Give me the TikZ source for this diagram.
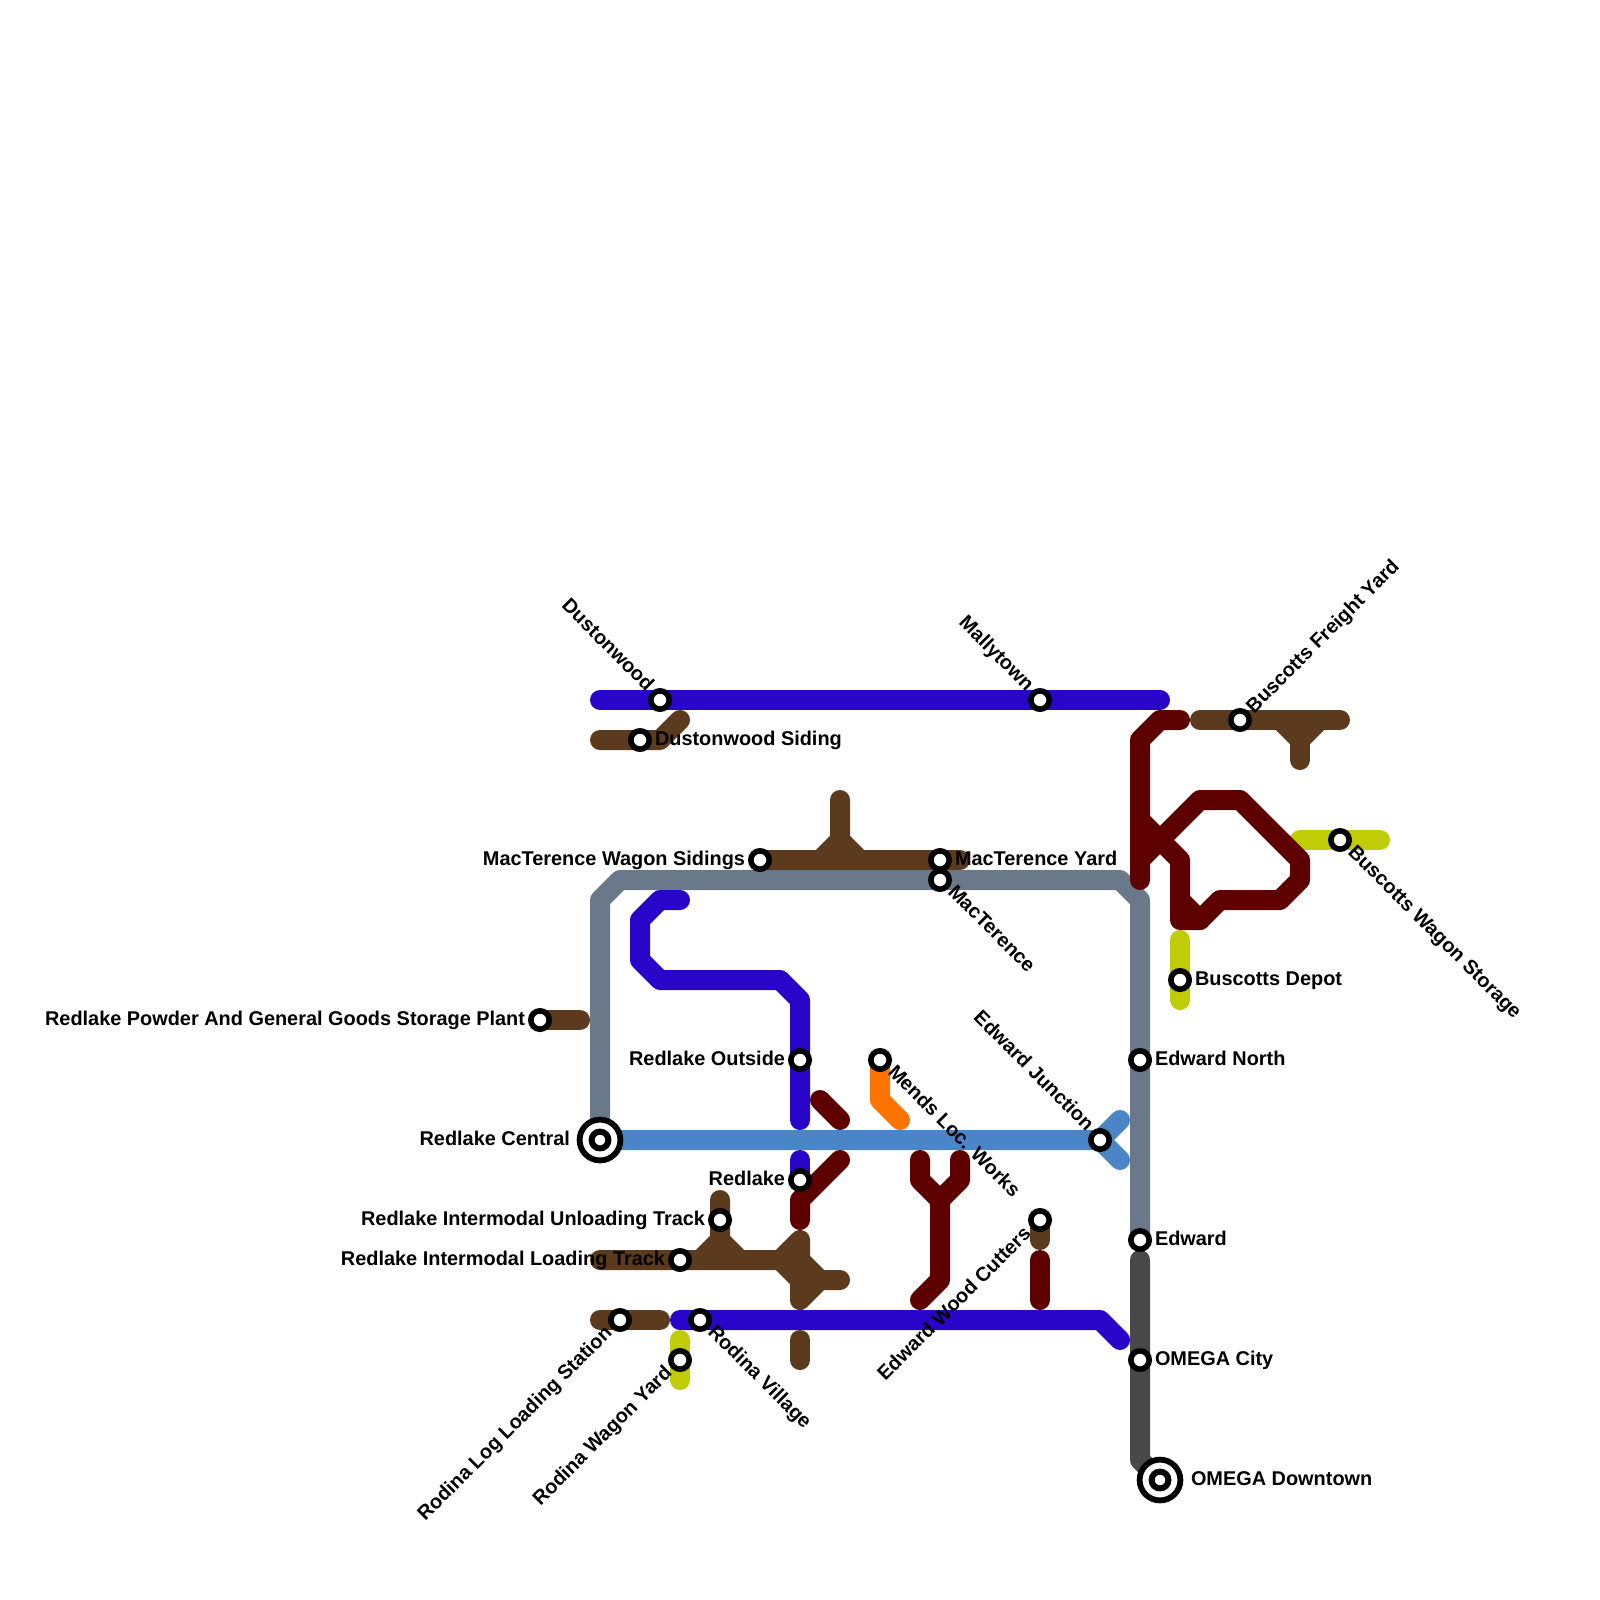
\documentclass[tikz,border=0pt]{standalone}
\usepackage{fontspec}
\setmainfont{Liberation Sans}
\usetikzlibrary{backgrounds}
\definecolor{cPurple}{HTML}{2805C8}
\definecolor{cBrown}{HTML}{5C3A1E}
\definecolor{cRed}{HTML}{5E0000}
\definecolor{cSteel}{HTML}{69798A}
\definecolor{cBlue}{HTML}{4A86C6}
\definecolor{cYellow}{HTML}{BFCC06}
\definecolor{cOrange}{HTML}{FF7300}
\definecolor{cDark}{HTML}{484848}
\tikzset{
  track/.style={line width=10pt,line cap=round,line join=round},
  purple line/.style={track,draw=cPurple},
  brown line/.style={track,draw=cBrown},
  red line/.style={track,draw=cRed},
  steel line/.style={track,draw=cSteel},
  blue line/.style={track,draw=cBlue},
  yellow line/.style={track,draw=cYellow},
  orange line/.style={track,draw=cOrange},
  dark line/.style={track,draw=cDark},
  stn/.style={circle,draw=black,fill=white,line width=2.8pt,minimum size=9.2pt,inner sep=0pt,outer sep=0pt},
  hub/.style={circle,draw=black,fill=white,line width=2.9pt,minimum size=20.4pt,inner sep=0pt,outer sep=0pt},
  hubcore/.style={circle,draw=black,fill=white,line width=3pt,minimum size=8.4pt,inner sep=0pt,outer sep=0pt},
  lab/.style={font=\bfseries\fontsize{9.95pt}{12pt}\selectfont,text=black,inner sep=0pt,outer sep=0pt},
  labR/.style={lab,anchor=base west},
  labL/.style={lab,anchor=base east},
  labDR/.style={lab,anchor=base west,rotate=-45},
  labUL/.style={lab,anchor=base east,rotate=-45},
  labUR/.style={lab,anchor=base west,rotate=45},
  labDL/.style={lab,anchor=base east,rotate=45},
}
\begin{document}
\begin{tikzpicture}[x=0.5pt,y=-0.5pt]
\useasboundingbox (0,0) rectangle (1600,1600);
% stations
\node[hub] (central) at (600,1140) {};
\node[hubcore] (centralI) at (600,1140) {};
\node[hub] (downtown) at (1160,1480) {};
\node[hubcore] (downtownI) at (1160,1480) {};
\node[stn] (dust) at (660,700) {};
\node[stn] (mally) at (1040,700) {};
\node[stn] (siding) at (640,740) {};
\node[stn] (wagons) at (760,860) {};
\node[stn] (macyard) at (940,860) {};
\node[stn] (mac) at (940,880) {};
\node[stn] (freight) at (1240,720) {};
\node[stn] (storage) at (1340,840) {};
\node[stn] (depot) at (1180,980) {};
\node[stn] (powder) at (540,1020) {};
\node[stn] (outside) at (800,1060) {};
\node[stn] (mends) at (880,1060) {};
\node[stn] (enorth) at (1140,1060) {};
\node[stn] (ejunc) at (1100,1140) {};
\node[stn] (redlake) at (800,1180) {};
\node[stn] (unload) at (720,1220) {};
\node[stn] (cutters) at (1040,1220) {};
\node[stn] (edward) at (1140,1240) {};
\node[stn] (load) at (680,1260) {};
\node[stn] (logload) at (620,1320) {};
\node[stn] (village) at (700,1320) {};
\node[stn] (ryard) at (680,1360) {};
\node[stn] (omega) at (1140,1360) {};
% labels
\node[labUL] (t1) at ([shift={(-14,-8)}]dust.center) {Dustonwood};
\node[labUL] (t2) at ([shift={(-14,-8)}]mally.center) {Mallytown};
\node[labR] (t3) at ([shift={(15,5)}]siding.center) {Dustonwood Siding};
\node[labL] (t4) at ([shift={(-15,5)}]wagons.center) {MacTerence Wagon Sidings};
\node[labR] (t5) at ([shift={(15,5)}]macyard.center) {MacTerence Yard};
\node[labDR] (t6) at ([shift={(7,13)}]mac.center) {MacTerence};
\node[labUR] (t7) at ([shift={(14,-6)}]freight.center) {Buscotts Freight Yard};
\node[labDR] (t8) at ([shift={(7,13)}]storage.center) {Buscotts Wagon Storage};
\node[labR] (t9) at ([shift={(15,5)}]depot.center) {Buscotts Depot};
\node[labL] (t10) at ([shift={(-15,5)}]powder.center) {Redlake Powder And General Goods Storage Plant};
\node[labL] (t11) at ([shift={(-15,5)}]outside.center) {Redlake Outside};
\node[labDR] (t12) at ([shift={(7,13)}]mends.center) {Mends Loc. Works};
\node[labR] (t13) at ([shift={(15,5)}]enorth.center) {Edward North};
\node[labUL] (t14) at ([shift={(-14,-8)}]ejunc.center) {Edward Junction};
\node[labL] (t15) at ([shift={(-30,5)}]central.center) {Redlake Central};
\node[labL] (t16) at ([shift={(-15,5)}]redlake.center) {Redlake};
\node[labL] (t17) at ([shift={(-15,5)}]unload.center) {Redlake Intermodal Unloading Track};
\node[labDL] (t18) at ([shift={(-8,15)}]cutters.center) {Edward Wood Cutters};
\node[labR] (t19) at ([shift={(15,5)}]edward.center) {Edward};
\node[labL] (t20) at ([shift={(-15,5)}]load.center) {Redlake Intermodal Loading Track};
\node[labDL] (t21) at ([shift={(-7,14)}]logload.center) {Rodina Log Loading Station};
\node[labDR] (t22) at ([shift={(7,13)}]village.center) {Rodina Village};
\node[labDL] (t23) at ([shift={(-7,14)}]ryard.center) {Rodina Wagon Yard};
\node[labR] (t24) at ([shift={(15,5)}]omega.center) {OMEGA City};
\node[labR] (t25) at ([shift={(31,5)}]downtown.center) {OMEGA Downtown};
% lines
\begin{pgfonlayer}{background}
\draw[steel line] (central.center) -- (600,900) -- (620,880) -- (mac.center) -- (1120,880) -- (1140,900) -- (enorth.center) -- (edward.center);
\draw[blue line] (central.center) -- (ejunc.center) -- (1120,1120);
\draw[blue line] (ejunc.center) -- (1120,1160);
\draw[dark line] (1140,1260) -- (omega.center) -- (1140,1460) -- (downtown.center);
\draw[purple line] (600,700) -- (dust.center) -- (mally.center) -- (1160,700);
\draw[purple line] (680,900) -- (660,900) -- (640,920) -- (640,960) -- (660,980) -- (780,980) -- (800,1000) -- (outside.center) -- (800,1120);
\draw[purple line] (800,1160) -- (redlake.center);
\draw[purple line] (680,1320) -- (village.center) -- (1100,1320) -- (1120,1340);
\draw[brown line] (600,740) -- (siding.center) -- (660,740) -- (680,720);
\draw[brown line] (wagons.center) -- (macyard.center) -- (960,860);
\draw[brown line] (840,800) -- (840,840) -- (820,860);
\draw[brown line] (840,840) -- (860,860);
\draw[brown line] (powder.center) -- (580,1020);
\draw[brown line] (600,1260) -- (load.center) -- (780,1260) -- (800,1240) -- (800,1300) -- (820,1280) -- (840,1280);
\draw[brown line] (780,1260) -- (800,1280);
\draw[brown line] (800,1260) -- (820,1280);
\draw[brown line] (720,1200) -- (unload.center) -- (720,1240) -- (700,1260);
\draw[brown line] (720,1240) -- (740,1260);
\draw[brown line] (600,1320) -- (logload.center) -- (660,1320);
\draw[brown line] (800,1340) -- (800,1360);
\draw[brown line] (cutters.center) -- (1040,1240);
\draw[brown line] (1200,720) -- (freight.center) -- (1340,720);
\draw[brown line] (1280,720) -- (1300,740) -- (1320,720);
\draw[brown line] (1300,740) -- (1300,760);
\draw[yellow line] (1300,840) -- (storage.center) -- (1380,840);
\draw[yellow line] (1180,940) -- (depot.center) -- (1180,1000);
\draw[yellow line] (680,1340) -- (ryard.center) -- (680,1380);
\draw[orange line] (mends.center) -- (880,1100) -- (900,1120);
\draw[red line] (1180,720) -- (1160,720) -- (1140,740) -- (1140,880);
\draw[red line] (1140,820) -- (1180,860) -- (1180,920) -- (1200,920) -- (1220,900) -- (1280,900) -- (1300,880) -- (1300,860) -- (1240,800) -- (1200,800) -- (1140,860);
\draw[red line] (1180,900) -- (1200,920);
\draw[red line] (820,1100) -- (840,1120);
\draw[red line] (840,1160) -- (800,1200) -- (800,1220);
\draw[red line] (920,1160) -- (920,1180) -- (940,1200) -- (960,1180) -- (960,1160);
\draw[red line] (940,1200) -- (940,1280) -- (920,1300);
\draw[red line] (1040,1260) -- (1040,1300);
\end{pgfonlayer}
\end{tikzpicture}
\end{document}
